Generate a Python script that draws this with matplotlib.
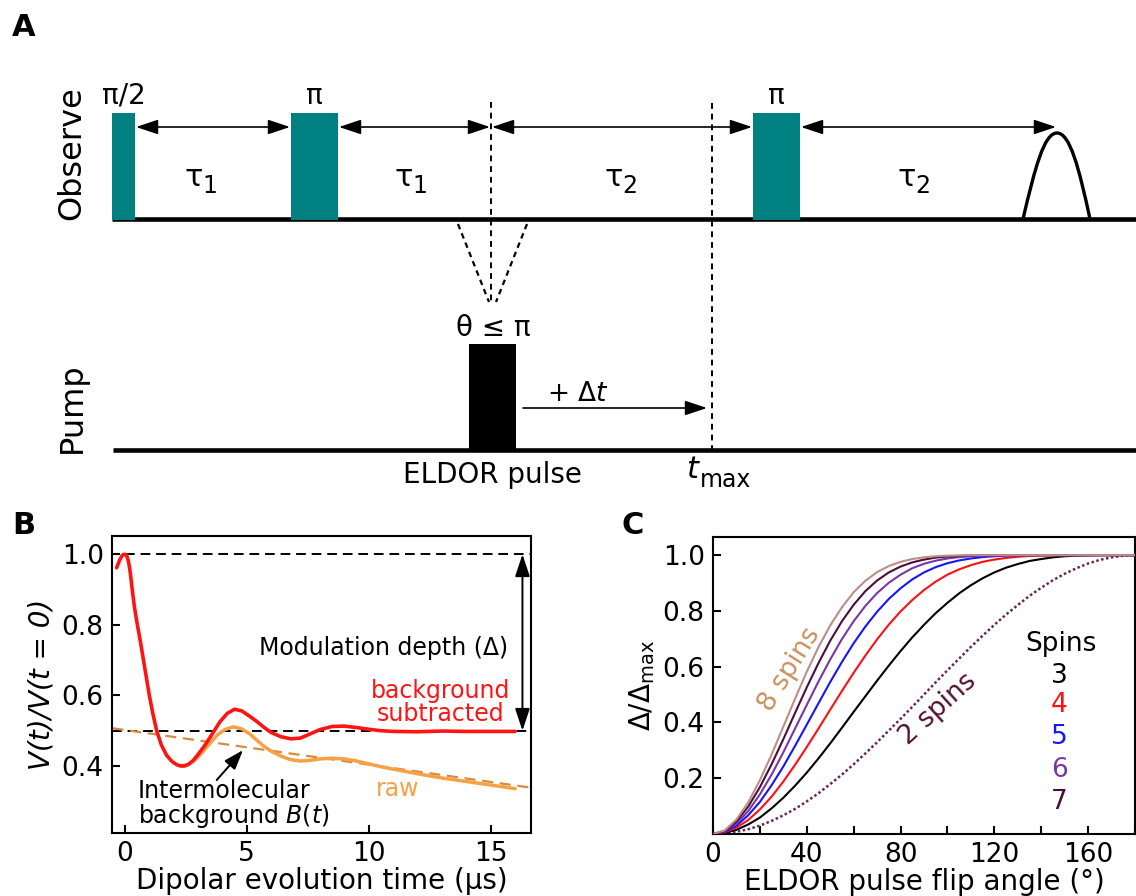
import matplotlib
matplotlib.use('Agg')
import matplotlib.pyplot as plt
from matplotlib.patches import Rectangle, FancyArrowPatch, PathPatch
from matplotlib.path import Path

plt.rcParams['font.family'] = ['DejaVu Sans']
plt.rcParams['mathtext.fontset'] = 'dejavusans'

# ---------------- Panel B data ----------------
t_bgsub = [-0.33, -0.2, -0.1, -0.05, 0.0, 0.05, 0.1, 0.15, 0.2, 0.25, 0.3, 0.4, 0.52, 0.65, 0.77,
           0.89, 1.01, 1.15, 1.31, 1.5, 1.72, 1.95, 2.15, 2.3, 2.45, 2.6, 2.8, 3.0, 3.3, 3.6, 3.9,
           4.2, 4.5, 4.8, 5.1, 5.4, 5.7, 6.0, 6.4, 6.8, 7.2, 7.6, 8.0, 8.5, 9.0, 9.5, 10.0, 10.5,
           11.0, 12.0, 13.0, 14.0, 15.0, 16.0]
v_bgsub = [0.962, 0.985, 0.997, 0.9995, 1.0, 0.999, 0.993, 0.981, 0.962, 0.936, 0.905, 0.85, 0.80,
           0.75, 0.70, 0.65, 0.60, 0.55, 0.50, 0.46, 0.43, 0.412, 0.403, 0.40, 0.40, 0.404, 0.415,
           0.432, 0.46, 0.492, 0.525, 0.549, 0.561, 0.556, 0.542, 0.527, 0.51, 0.495, 0.483, 0.477,
           0.479, 0.491, 0.503, 0.512, 0.513, 0.509, 0.504, 0.50, 0.498, 0.497, 0.499, 0.498,
           0.498, 0.498]

t_raw = [2.3, 2.6, 2.9, 3.2, 3.5, 3.8, 4.1, 4.45, 4.8, 5.1, 5.4, 5.7, 6.0, 6.4, 6.8, 7.2, 7.6,
         8.0, 8.5, 9.0, 9.5, 10.0, 10.5, 11.0, 12.0, 13.0, 14.0, 15.0, 16.0]
v_raw = [0.40, 0.404, 0.418, 0.44, 0.465, 0.488, 0.503, 0.511, 0.505, 0.492, 0.474, 0.456, 0.442,
         0.428, 0.418, 0.414, 0.416, 0.42, 0.422, 0.42, 0.414, 0.406, 0.398, 0.391, 0.378, 0.366,
         0.356, 0.346, 0.336]

t_background = [-0.5, 16.6]
v_background = [0.507, 0.339]
full_level = 1.0
depth_level = 0.5
b_xticks = [0, 5, 10, 15]
b_yticks = [0.4, 0.6, 0.8, 1.0]

# ---------------- Panel C data ----------------
flip_angle = list(range(0, 181, 5))
spins_2 = [0, .002, .008, .017, .030, .047, .067, .090, .117, .146, .179, .213, .250, .289, .329,
           .371, .413, .456, .500, .544, .587, .629, .671, .711, .750, .787, .821, .854, .883, .910,
           .933, .953, .970, .983, .992, .998, 1.0]
spins_3 = [0, .004, .015, .034, .059, .092, .130, .173, .220, .271, .325, .381, .438, .494, .550,
           .604, .656, .705, .750, .792, .829, .863, .892, .917, .938, .955, .968, .979, .986, .992,
           .996, .998, .999, 1.0, 1.0, 1.0, 1.0]
spins_4 = [0, .006, .023, .050, .088, .134, .188, .248, .312, .378, .446, .513, .578, .640, .698,
           .751, .798, .839, .875, .905, .930, .949, .964, .976, .984, .990, .994, .997, .998, .999,
           1.0, 1.0, 1.0, 1.0, 1.0, 1.0, 1.0]
spins_5 = [0, .008, .030, .067, .115, .175, .242, .316, .392, .469, .545, .617, .684, .744, .797,
           .843, .881, .913, .938, .957, .971, .981, .988, .993, .996, .998, .999, 1.0, 1.0, 1.0,
           1.0, 1.0, 1.0, 1.0, 1.0, 1.0, 1.0]
spins_6 = [0, .010, .037, .082, .142, .213, .293, .378, .463, .547, .626, .699, .763, .818, .864,
           .901, .930, .953, .969, .980, .988, .993, .996, .998, .999, 1.0, 1.0, 1.0, 1.0, 1.0,
           1.0, 1.0, 1.0, 1.0, 1.0, 1.0, 1.0]
spins_7 = [0, .011, .045, .098, .168, .250, .340, .434, .526, .613, .693, .763, .822, .871, .909,
           .938, .959, .974, .984, .991, .995, .997, .999, 1.0, 1.0, 1.0, 1.0, 1.0, 1.0, 1.0,
           1.0, 1.0, 1.0, 1.0, 1.0, 1.0, 1.0]
spins_8 = [0, .013, .052, .113, .193, .285, .385, .485, .582, .670, .748, .813, .867, .908, .939,
           .961, .976, .986, .992, .996, .998, .999, 1.0, 1.0, 1.0, 1.0, 1.0, 1.0, 1.0, 1.0,
           1.0, 1.0, 1.0, 1.0, 1.0, 1.0, 1.0]
legend_numbers = ['3', '4', '5', '6', '7']
c_xticks = list(range(0, 181, 20))
c_xticklabels = ['0', '', '40', '', '80', '', '120', '', '160', '']
c_yticks = [0.2, 0.4, 0.6, 0.8, 1.0]

col_2 = '#6a2552'
col_3 = '#000000'
col_4 = '#ff1010'
col_5 = '#1515ff'
col_6 = '#7a35a8'
col_7 = '#4c0c40'
col_8 = '#b98f86'
col_8_label = '#c8925e'
teal = '#008080'

# ---------------- Figure ----------------
W, H = 1136, 896
fig = plt.figure(figsize=(W / 100, H / 100), dpi=100)
fig.patch.set_facecolor('white')

# Panel A schematic drawn in pixel coordinates
axA = fig.add_axes([0, 0, 1, 1])
axA.set_xlim(0, W)
axA.set_ylim(H, 0)
axA.axis('off')
axA.patch.set_visible(False)

obs_y = 219
pump_y = 450
axA.plot([112, W], [obs_y, obs_y], color='black', lw=3.3, solid_capstyle='butt', zorder=2)
axA.plot([113, W], [pump_y, pump_y], color='black', lw=3.3, solid_capstyle='butt', zorder=2)

observe_pulses = [(112, 135, 'π/2'), (291, 338, 'π'), (753, 800, 'π')]
pulse_top = 113
for x0, x1, lab in observe_pulses:
    axA.add_patch(Rectangle((x0, pulse_top), x1 - x0, obs_y + 1 - pulse_top,
                            facecolor=teal, edgecolor='none', zorder=3))
    axA.text((x0 + x1) / 2, pulse_top - 3, lab, ha='center', va='bottom', fontsize=20)

# pump pulse
axA.add_patch(Rectangle((469, 344), 516 - 469, pump_y + 1 - 344,
                        facecolor='black', edgecolor='none', zorder=3))
axA.text(493, 328, 'θ ≤ π', ha='center', va='center', fontsize=20)

# echo
echo = Path([(1023, obs_y), (1035, 168), (1044, 133), (1057, 133),
             (1070, 133), (1079, 168), (1090, obs_y)],
            [Path.MOVETO, Path.CURVE4, Path.CURVE4, Path.CURVE4,
             Path.CURVE4, Path.CURVE4, Path.CURVE4])
axA.add_patch(PathPatch(echo, facecolor='none', edgecolor='black', lw=2.4, zorder=3))

# dashed verticals
axA.plot([491, 491], [102, 302], color='black', lw=1.4, ls=(0, (3, 2.5)), zorder=2)
axA.plot([712, 712], [103, pump_y], color='black', lw=1.4, ls=(0, (3, 2.5)), zorder=2)
axA.plot([458, 489], [224, 302], color='black', lw=1.6, ls=(0, (2.5, 2)), zorder=2)
axA.plot([527, 496], [224, 302], color='black', lw=1.6, ls=(0, (2.5, 2)), zorder=2)

# double arrows
arrow_y = 127
for xa, xb in [(135, 291), (338, 491), (491, 753), (800, 1057)]:
    axA.add_patch(FancyArrowPatch((xa + 1, arrow_y), (xb - 1, arrow_y),
                                  arrowstyle='<|-|>,head_length=0.9,head_width=0.3',
                                  mutation_scale=15, lw=1.2, color='black',
                                  shrinkA=0, shrinkB=0, zorder=4))
for xc, sub in [(200, '1'), (410, '1'), (620, '2'), (913, '2')]:
    axA.text(xc - 6, 178, 'τ', ha='center', va='center', fontsize=22)
    axA.text(xc + 10, 186, sub, ha='center', va='center', fontsize=17)

# delta t arrow
axA.add_patch(FancyArrowPatch((523, 408), (707, 408),
                              arrowstyle='-|>,head_length=0.9,head_width=0.3',
                              mutation_scale=15, lw=1.2, color='black',
                              shrinkA=0, shrinkB=0, zorder=4))
axA.text(578, 394, '+ Δ$t$', ha='center', va='center', fontsize=19)
axA.text(492, 475, 'ELDOR pulse', ha='center', va='center', fontsize=20)
axA.text(693, 470, '$t$', ha='center', va='center', fontsize=22)
axA.text(700, 480, 'max', ha='left', va='center', fontsize=17)

axA.text(72, 153, 'Observe', rotation=90, ha='center', va='center', fontsize=23)
axA.text(72, 408, 'Pump', rotation=90, ha='center', va='center', fontsize=23)

axA.text(24, 27, 'A', ha='center', va='center', fontsize=22, fontweight='bold')
axA.text(24, 525, 'B', ha='center', va='center', fontsize=22, fontweight='bold')
axA.text(633, 525, 'C', ha='center', va='center', fontsize=22, fontweight='bold')


def px_axes(x0, x1, y0, y1):
    return [x0 / W, 1 - y1 / H, (x1 - x0) / W, (y1 - y0) / H]


def style_axes(ax):
    for s in ax.spines.values():
        s.set_linewidth(1.5)
    ax.tick_params(direction='in', length=6, width=1.5, labelsize=19, pad=6)


# ---------------- Panel B ----------------
axB = fig.add_axes(px_axes(112, 531, 536, 833))
style_axes(axB)
axB.set_xlim(-0.52, 16.65)
axB.set_ylim(0.21, 1.052)
axB.set_xticks(b_xticks)
axB.set_yticks(b_yticks)
axB.set_yticklabels([f'{v:.1f}' for v in b_yticks])

axB.plot([0, 16.6], [full_level, full_level], color='black', lw=1.4, ls=(0, (5, 3)), zorder=2)
axB.plot([-0.52, 16.6], [depth_level, depth_level], color='black', lw=1.4, ls=(0, (5, 3)), zorder=2)
axB.plot(t_background, v_background, color='#d98a40', lw=1.6, ls=(0, (5, 3)), zorder=2)
axB.plot(t_raw, v_raw, color='#f7a145', lw=2.5, zorder=3, solid_capstyle='round')
axB.plot(t_bgsub, v_bgsub, color='#ff1414', lw=2.6, zorder=4, solid_capstyle='round')

axB.add_patch(FancyArrowPatch((16.3, depth_level), (16.3, full_level),
                              arrowstyle='<|-|>,head_length=0.9,head_width=0.3',
                              mutation_scale=15, lw=1.4, color='black',
                              shrinkA=0, shrinkB=0, zorder=5))
axB.annotate('', xy=(4.85, 0.445), xytext=(3.77, 0.36),
             arrowprops=dict(arrowstyle='-|>,head_length=0.8,head_width=0.28',
                             mutation_scale=15, lw=1.4, color='black', shrinkA=0, shrinkB=0))

axB.text(5.5, 0.735, 'Modulation depth (Δ)', ha='left', va='center', fontsize=17)
axB.text(12.95, 0.58, 'background\nsubtracted', ha='center', va='center', fontsize=17,
         color='#ff1414', linespacing=0.95)
axB.text(11.2, 0.336, 'raw', ha='center', va='center', fontsize=17, color='#f7a145')
axB.text(0.55, 0.29, 'Intermolecular\nbackground $B(t)$', ha='left', va='center', fontsize=17,
         linespacing=0.95)

axB.set_xlabel('Dipolar evolution time (μs)', fontsize=20, labelpad=0)
axB.set_ylabel('V(t)/V(t = 0)', fontsize=20, fontstyle='italic')
axB.yaxis.set_label_coords(-0.135, 0.5)

# ---------------- Panel C ----------------
axC = fig.add_axes(px_axes(713, 1135, 537, 834))
style_axes(axC)
axC.set_xlim(0, 180)
axC.set_ylim(0, 1.065)
axC.set_xticks(c_xticks)
axC.set_xticklabels(c_xticklabels)
axC.set_yticks(c_yticks)
axC.set_yticklabels([f'{v:.1f}' for v in c_yticks])

axC.plot(flip_angle, spins_2, color=col_2, lw=1.8, ls=(0, (1, 1)), zorder=2)
for ys, col in [(spins_3, col_3), (spins_4, col_4), (spins_5, col_5),
                (spins_6, col_6), (spins_7, col_7), (spins_8, col_8)]:
    axC.plot(flip_angle, ys, color=col, lw=1.5, zorder=3)

axC.text(32.8, 0.59, '8 spins', rotation=58, ha='center', va='center', fontsize=19,
         color=col_8_label, rotation_mode='anchor')
axC.text(96, 0.448, '2 spins', rotation=42, ha='center', va='center', fontsize=19,
         color='#55102e', rotation_mode='anchor')
axC.text(148.4, 0.68, 'Spins', ha='center', va='center', fontsize=19)
for num, yv, col in zip(legend_numbers, [0.566, 0.462, 0.348, 0.23, 0.115],
                        [col_3, col_4, col_5, col_6, col_7]):
    axC.text(147.7, yv, num, ha='center', va='center', fontsize=19, color=col)

axC.set_xlabel('ELDOR pulse flip angle (°)', fontsize=20, labelpad=0)
axC.set_ylabel(r'$\Delta/\Delta_{\mathrm{max}}$', fontsize=20)

fig.savefig('out.png', dpi=100)
